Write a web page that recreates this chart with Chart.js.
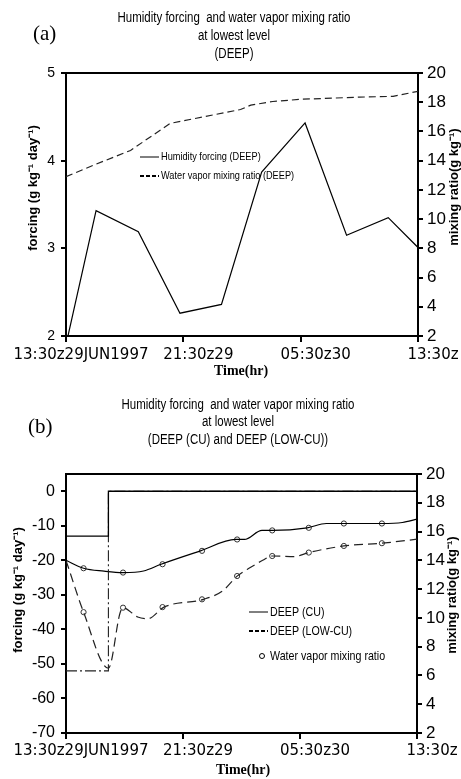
<!DOCTYPE html>
<html>
<head>
<meta charset="utf-8">
<title>Humidity forcing and water vapor mixing ratio at lowest level</title>
<script src="https://cdn.jsdelivr.net/npm/chart.js@4.4.1/dist/chart.umd.min.js"></script>
<style>
  html, body { margin: 0; padding: 0; background: #fff; }
  #wrap { position: relative; width: 461px; height: 779px; overflow: hidden; }
  canvas { position: absolute; left: 0; }
  #chartA { top: 0; }
  #chartB { top: 390px; }
</style>
</head>
<body>
<div id="wrap">
  <canvas id="chartA" width="461" height="390"></canvas>
  <canvas id="chartB" width="461" height="389"></canvas>
</div>
<script>
const SANS = '"Liberation Sans", Arial, sans-serif';
const SERIF = '"Liberation Serif", "Times New Roman", serif';
const WIDE = '"DejaVu Sans", sans-serif';

// x axis: hours after 13:30z 29 JUN 1997
const xTickHours = [0, 8, 16, 24];
const xTickLabels = ['13:30z29JUN1997', '21:30z29', '05:30z30', '13:30z'];

// (a) DEEP
const aTitle = ['Humidity forcing  and water vapor mixing ratio', 'at lowest level', '(DEEP)'];
const aForcingTicks = [2, 3, 4, 5];
const aMixTicks = [2, 4, 6, 8, 10, 12, 14, 16, 18, 20];
const aForcingHours = [0, 2.05, 4.93, 7.77, 10.6, 13.34, 16.3, 19.13, 21.97, 24];
const aForcing = [1.9, 3.43, 3.19, 2.26, 2.36, 3.87, 4.43, 3.15, 3.35, 3.01];
const aMixHours = [0, 1.9, 4.4, 7.1, 11.9, 12.6, 14.1, 16.0, 20.0, 22.3, 24];
const aMix = [12.9, 13.7, 14.7, 16.55, 17.5, 17.8, 18.05, 18.2, 18.35, 18.4, 18.75];

// (b) DEEP (CU) and DEEP (LOW-CU)
const bTitle = ['Humidity forcing  and water vapor mixing ratio', 'at lowest level', '(DEEP (CU) and DEEP (LOW-CU))'];
const bForcingTicks = [-70, -60, -50, -40, -30, -20, -10, 0];
const bMixTicks = [2, 4, 6, 8, 10, 12, 14, 16, 18, 20];
const bStepHours = [0, 2.9, 2.9, 24];
const bForcingCU = [-13, -13, 0, 0];
const bForcingLow = [-52, -52, 0, 0];
const bMixCUHours = [0, 1.2, 2.6, 3.9, 5.3, 6.5, 9.2, 11.6, 12.2, 13.4, 14.1, 16.5, 17.8, 19.0, 21.6, 23.0, 24];
const bMixCU = [14.0, 13.45, 13.25, 13.15, 13.26, 13.73, 14.66, 15.45, 15.45, 16.08, 16.08, 16.26, 16.56, 16.56, 16.56, 16.63, 16.86];
const bMixLowHours = [0, 1.2, 2.9, 3.7, 3.9, 4.9, 5.6, 6.7, 9.4, 10.7, 11.7, 12.6, 13.45, 14.1, 15.6, 16.6, 19.0, 21.6, 24];
const bMixLow = [14.0, 10.4, 6.5, 10.36, 10.7, 10.06, 9.94, 10.75, 11.29, 11.87, 12.9, 13.5, 14.0, 14.3, 14.26, 14.54, 15.0, 15.19, 15.47];
const bCircleHours = [1.2, 3.9, 6.6, 9.3, 11.7, 14.1, 16.6, 19.0, 21.6];
const bCircleCU = [13.45, 13.15, 13.73, 14.66, 15.45, 16.08, 16.26, 16.56, 16.56];
const bCircleLow = [10.4, 10.71, 10.75, 11.29, 12.91, 14.3, 14.54, 15.0, 15.19];

function pts(xs, ys) {
    return xs.map((x, i) => ({ x: x, y: ys[i] }));
}

// condensed text: the original uses a narrow face that is not installed
function narrowText(ctx, text, x, y, sx) {
    ctx.save();
    ctx.translate(x, y);
    ctx.scale(sx, 1);
    ctx.fillText(text, 0, 0);
    ctx.restore();
}

/**
 * Title, top frame line, panel letter, axis titles and the in-plot legend
 */
const panelText = {
    id: 'panelText',
    afterDraw(chart, args, o) {
        const ctx = chart.ctx;
        const area = chart.chartArea;
        ctx.save();
        ctx.strokeStyle = '#000';
        ctx.lineWidth = 2;
        ctx.beginPath();
        ctx.moveTo(area.left - 1, area.top);
        ctx.lineTo(area.right + 1, area.top);
        ctx.stroke();

        ctx.fillStyle = '#000';
        ctx.textBaseline = 'middle';

        // title
        ctx.textAlign = 'center';
        ctx.font = '14px ' + SANS;
        o.title.forEach((line, i) => {
            narrowText(ctx, line, o.titleX, o.titleY + i * o.titleStep, 0.82);
        });

        ctx.textAlign = 'left';
        ctx.font = '21px ' + SERIF;
        ctx.fillText(o.letter.text, o.letter.x, o.letter.y);

        ctx.textAlign = 'center';
        ctx.font = 'bold 13px ' + SANS;
        o.yTitles.forEach(t => {
            ctx.save();
            ctx.translate(t.x, t.y);
            ctx.rotate(-Math.PI / 2);
            ctx.fillText(t.text, 0, 0);
            ctx.restore();
        });
        ctx.font = 'bold 14px ' + SERIF;
        ctx.fillText('Time(hr)', o.time.x, o.time.y);

        // legend
        ctx.textAlign = 'left';
        ctx.font = o.legendFont;
        o.legend.forEach(it => {
            ctx.beginPath();
            if (it.kind === 'circle') {
                ctx.lineWidth = 1;
                ctx.arc(it.x + 13, it.y, 2.5, 0, Math.PI * 2);
            } else {
                ctx.lineWidth = it.kind === 'dash' ? 2 : 1;
                ctx.setLineDash(it.kind === 'dash' ? [4, 2] : []);
                ctx.moveTo(it.x, it.y);
                ctx.lineTo(it.x + 19, it.y);
            }
            ctx.stroke();
            ctx.setLineDash([]);
            narrowText(ctx, it.text, it.tx, it.y, o.legendScale);
        });
        ctx.restore();
    }
};

function xScale(height, pad) {
    return {
        type: 'linear', min: 0, max: 24,
        afterBuildTicks: s => { s.ticks = xTickHours.map(v => ({ value: v })); },
        afterFit: s => { s.height = height; s.paddingLeft = 0; s.paddingRight = 0; },
        grid: { drawOnChartArea: false, color: '#000', lineWidth: 2, tickLength: 6 },
        border: { color: '#000', width: 2 },
        ticks: {
            autoSkip: false, maxRotation: 0, padding: pad, labelOffset: 15,
            color: '#000', font: { family: WIDE, size: 15 },
            callback: v => xTickLabels[xTickHours.indexOf(v)]
        }
    };
}

function yScale(pos, ticks, width, font, pad) {
    return {
        type: 'linear', position: pos,
        min: ticks[0], max: ticks[ticks.length - 1],
        afterBuildTicks: s => { s.ticks = ticks.map(v => ({ value: v })); },
        afterFit: s => { s.width = width; s.paddingTop = 0; s.paddingBottom = 0; },
        grid: { drawOnChartArea: false, color: '#000', lineWidth: 2, tickLength: 5 },
        border: { color: '#000', width: 2 },
        ticks: { color: '#000', font: font, padding: pad }
    };
}

const common = {
    responsive: false,
    animation: false,
    devicePixelRatio: 1,
    elements: { point: { radius: 0 }, line: { tension: 0 } }
};

// ---- panel (a)
new Chart(document.getElementById('chartA'), {
    type: 'line',
    data: {
        datasets: [
            {
                label: 'Humidity forcing (DEEP)', yAxisID: 'y',
                data: pts(aForcingHours, aForcing),
                borderColor: '#000', borderWidth: 1.2
            },
            {
                label: 'Water vapor mixing ratio (DEEP)', yAxisID: 'y1',
                data: pts(aMixHours, aMix),
                borderColor: '#222', borderWidth: 1.2, borderDash: [7, 4]
            }
        ]
    },
    options: Object.assign({}, common, {
        layout: { padding: { top: 73 } },
        scales: {
            x: xScale(54, 4),
            y: yScale('left', aForcingTicks, 66, { family: SANS, size: 14 }, 6),
            y1: yScale('right', aMixTicks, 43, { family: SANS, size: 17 }, 4)
        },
        plugins: {
            legend: { display: false },
            tooltip: { enabled: false },
            panelText: {
                title: aTitle, titleX: 234, titleY: 18, titleStep: 18,
                letter: { text: '(a)', x: 33, y: 34 },
                yTitles: [
                    { text: 'forcing (g kg\u207B\u00B9 day\u207B\u00B9)', x: 33, y: 188 },
                    { text: 'mixing ratio(g kg\u207B\u00B9)', x: 454, y: 187 }
                ],
                time: { x: 241, y: 371 },
                legendFont: '11.5px ' + SANS, legendScale: 0.8,
                legend: [
                    { kind: 'line', text: 'Humidity forcing (DEEP)', x: 140, tx: 161, y: 157 },
                    { kind: 'dash', text: 'Water vapor mixing ratio (DEEP)', x: 140, tx: 161, y: 176 }
                ]
            }
        }
    }),
    plugins: [panelText]
});

// ---- panel (b)
new Chart(document.getElementById('chartB'), {
    type: 'line',
    data: {
        datasets: [
            {
                label: 'DEEP (CU)', yAxisID: 'y',
                data: pts(bStepHours, bForcingCU),
                borderColor: '#000', borderWidth: 1.3
            },
            {
                label: 'DEEP (LOW-CU)', yAxisID: 'y',
                data: pts(bStepHours, bForcingLow),
                borderColor: '#222', borderWidth: 1.1, borderDash: [11, 3, 2, 3]
            },
            {
                label: 'mixing ratio CU', yAxisID: 'y1',
                data: pts(bMixCUHours, bMixCU),
                borderColor: '#000', borderWidth: 1.2, cubicInterpolationMode: 'monotone'
            },
            {
                label: 'mixing ratio LOW-CU', yAxisID: 'y1',
                data: pts(bMixLowHours, bMixLow),
                borderColor: '#222', borderWidth: 1.2, borderDash: [9, 5], cubicInterpolationMode: 'monotone'
            },
            {
                label: 'Water vapor mixing ratio', yAxisID: 'y1', showLine: false,
                data: pts(bCircleHours, bCircleCU).concat(pts(bCircleHours, bCircleLow)),
                pointRadius: 2.6, pointStyle: 'circle', pointBorderWidth: 1,
                pointBorderColor: '#333', pointBackgroundColor: 'rgba(0,0,0,0)'
            }
        ]
    },
    options: Object.assign({}, common, {
        layout: { padding: { top: 84 } },
        scales: {
            x: xScale(46, 3),
            y: Object.assign(yScale('left', bForcingTicks, 66, { family: SANS, size: 16 }, 6), { max: 5 }),
            y1: yScale('right', bMixTicks, 44, { family: SANS, size: 17 }, 4)
        },
        plugins: {
            legend: { display: false },
            tooltip: { enabled: false },
            panelText: {
                title: bTitle, titleX: 238, titleY: 15, titleStep: 17.5,
                letter: { text: '(b)', x: 28, y: 37 },
                yTitles: [
                    { text: 'forcing (g kg\u207B\u00B9 day\u207B\u00B9)', x: 18, y: 200 },
                    { text: 'mixing ratio(g kg\u207B\u00B9)', x: 452, y: 205 }
                ],
                time: { x: 243, y: 380 },
                legendFont: '13px ' + SANS, legendScale: 0.82,
                legend: [
                    { kind: 'line', text: 'DEEP (CU)', x: 249, tx: 270, y: 222 },
                    { kind: 'dash', text: 'DEEP (LOW-CU)', x: 249, tx: 270, y: 241 },
                    { kind: 'circle', text: 'Water vapor mixing ratio', x: 249, tx: 270, y: 266 }
                ]
            }
        }
    }),
    plugins: [panelText]
});
</script>
</body>
</html>
